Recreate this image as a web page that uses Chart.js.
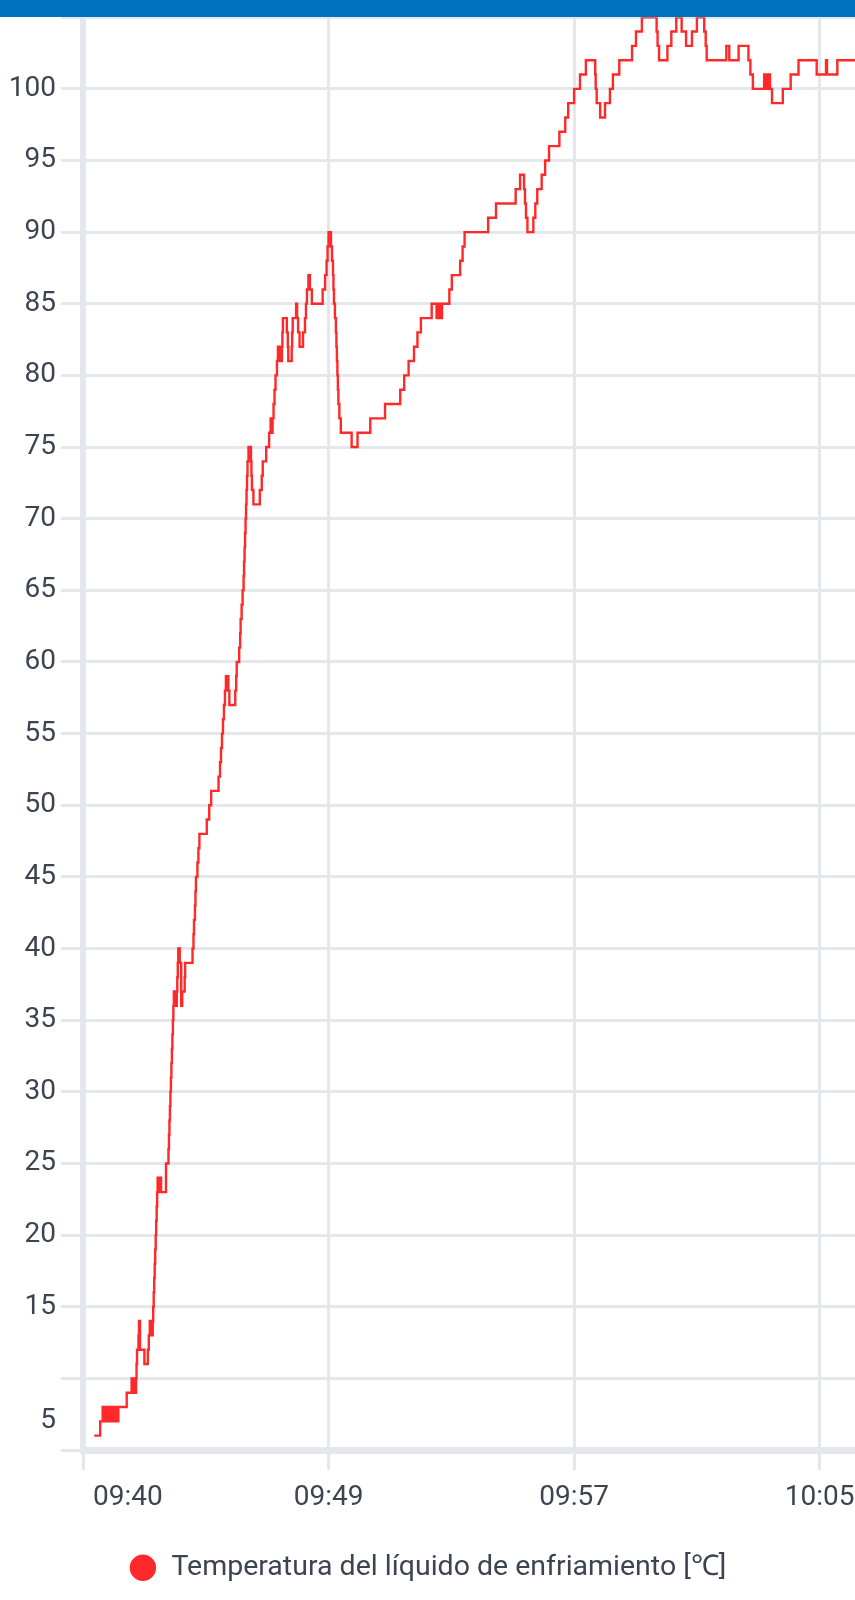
<!DOCTYPE html>
<html>
<head>
<meta charset="utf-8">
<script src="https://cdn.jsdelivr.net/npm/chart.js@4.4.1/dist/chart.umd.min.js"></script>
<style>
    html, body { margin: 0; padding: 0; background: #ffffff; overflow: hidden; }
    #wrap { position: relative; width: 855px; height: 1600px; }
    #topBar { position: absolute; left: 0; top: 0; width: 855px; height: 17px; background: #0071c1; z-index: 2; }
</style>
</head>
<body>
<div id="wrap">
    <div id="topBar"></div>
    <canvas id="tempChart" width="855" height="1600"></canvas>
</div>
<script>
// Seconds after 09:40:00 where the reading changes
var times = [
    63, 75, 80, 84, 85, 89, 90, 94, 95, 99, 101, 103, 105, 107, 109, 110, 112,
    129, 139, 142, 144, 146, 148, 149, 150, 153, 154, 156, 165, 172, 174,
    176, 177, 178, 179, 180, 181, 182, 183, 184, 185, 186, 187, 188, 189, 190, 191, 192,
    193, 194, 196, 197, 199, 209, 214, 215, 216, 217, 218, 219, 220, 221, 222, 223, 224,
    225, 227, 228, 230, 231, 232, 233, 234, 237, 240, 242, 247, 248,
    263, 265, 266, 268, 269, 270, 273, 275, 277, 292, 297, 301, 316, 319, 321, 323, 325, 327,
    329, 331, 333, 334, 336, 338, 350, 352, 353, 358, 360, 361, 363, 365, 367, 368, 369, 370,
    371, 372, 373, 374, 375, 377, 382, 383, 384, 387, 400, 404, 406, 413, 419, 422, 424, 426,
    428, 430, 432, 435, 437, 440, 441, 443, 445, 446, 447, 455, 457, 458, 465, 466, 467, 474,
    476, 478, 481, 488, 492, 494, 496, 499, 502, 506, 528, 533, 536, 538, 540, 545, 547, 549,
    550, 551, 553, 555, 556, 557, 558, 559, 560, 562, 565, 587, 599, 625, 655, 686, 694, 703,
    714, 721, 728, 750, 760, 762, 764, 766, 768, 771, 786, 791, 808, 813, 817, 865, 881, 921,
    930, 938, 940, 942, 945, 957, 961, 965, 974, 981, 989, 1010, 1022, 1028, 1040, 1052, 1064,
    1083, 1084, 1086, 1093, 1103, 1113, 1119, 1132, 1158, 1166, 1178, 1208, 1210, 1213, 1230,
    1238, 1248, 1259, 1268, 1280, 1290, 1305, 1308, 1310, 1350, 1356, 1375, 1395, 1399, 1404,
    1427, 1430, 1432, 1435, 1437, 1439, 1443, 1465, 1481, 1497, 1534, 1553, 1555, 1576, 1640
];

// Coolant temperature in °C
var temps = [
    6, 7, 8, 7, 8, 7, 8, 7, 8, 7, 8, 7, 8, 7, 8, 7, 8,
    9, 10, 9, 10, 9, 10, 11, 12, 13, 14, 12, 11, 12, 13,
    14, 13, 14, 13, 14, 13, 14, 15, 16, 17, 18, 19, 20, 21, 22, 23, 24,
    23, 24, 23, 24, 23, 25, 26, 27, 28, 29, 30, 31, 32, 33, 34, 35, 36,
    37, 36, 37, 36, 37, 38, 39, 40, 39, 36, 37, 38, 39,
    40, 41, 42, 43, 44, 45, 46, 47, 48, 49, 50, 51, 52, 53, 54, 55, 56, 57,
    58, 59, 58, 59, 58, 57, 58, 59, 60, 61, 62, 63, 64, 65, 66, 67, 68, 69,
    70, 71, 72, 73, 74, 75, 74, 73, 72, 71, 72, 73, 74, 75, 76, 77, 76, 77,
    78, 79, 80, 81, 82, 81, 82, 81, 82, 83, 84, 83, 82, 81, 82, 83, 84, 85,
    84, 83, 82, 83, 84, 85, 86, 87, 86, 85, 86, 87, 88, 89, 90, 89, 88, 87,
    86, 85, 84, 83, 82, 81, 80, 79, 78, 77, 76, 75, 76, 77, 78, 79, 80, 81,
    82, 83, 84, 85, 84, 85, 84, 85, 84, 85, 86, 87, 88, 89, 90, 91, 92, 93,
    94, 93, 92, 91, 90, 91, 92, 93, 94, 95, 96, 97, 98, 99, 100, 101, 102,
    101, 100, 99, 98, 99, 100, 101, 102, 103, 104, 105, 104, 103, 102, 103,
    104, 105, 104, 103, 104, 105, 104, 103, 102, 103, 102, 103, 102, 101, 100,
    101, 100, 101, 100, 101, 100, 99, 100, 101, 102, 101, 102, 101, 102, 102
];

// X axis ticks (seconds after 09:40:00) and their labels
var xTickSeconds = [40, 540, 1040, 1540];
var xTickLabels = ['09:40', '09:49', '09:57', '10:05'];

var seriesName = 'Temperatura del líquido de enfriamiento [℃]';
var textColor = '#3d4451';
var gridColor = '#e4e7eb';
var lineColor = '#ff2929';

var points = times.map(function (t, i) {
    return { x: t, y: temps[i] };
});

// First x label is pushed inside the chart, like the phone app does
var firstLabelInside = {
    id: 'firstLabelInside',
    beforeDraw: function (chart) {
        var items = chart.scales.x.getLabelItems();
        if (items.length) {
            items[0].options.textAlign = 'left';
            items[0].options.translation[0] += 10;
        }
    }
};

var ctx = document.getElementById('tempChart').getContext('2d');
var tempChart = new Chart(ctx, {
    type: 'line',
    data: {
        datasets: [{
            label: seriesName,
            data: points,
            borderColor: lineColor,
            backgroundColor: lineColor,
            borderWidth: 2.4,
            pointRadius: 0,
            pointStyle: 'circle',
            stepped: true,
            fill: false
        }]
    },
    options: {
        responsive: false,
        devicePixelRatio: 1,
        animation: false,
        layout: { padding: { top: 17.2, left: 0, right: 0, bottom: 8 } },
        plugins: {
            tooltip: { enabled: false },
            legend: {
                position: 'bottom',
                labels: {
                    usePointStyle: true,
                    boxWidth: 28.5,
                    boxHeight: 17,
                    padding: 10,
                    color: textColor,
                    font: { family: 'Roboto', size: 28.5 }
                }
            }
        },
        scales: {
            x: {
                type: 'linear',
                min: 40,
                max: 1612,
                afterBuildTicks: function (scale) {
                    scale.ticks = xTickSeconds.map(function (v) { return { value: v }; });
                },
                afterFit: function (scale) {
                    scale.height = 93.5;
                    scale.paddingLeft = 0;
                    scale.paddingRight = 0;
                },
                ticks: {
                    autoSkip: false,
                    maxRotation: 0,
                    padding: 11,
                    color: textColor,
                    font: { family: 'Roboto', size: 28 },
                    callback: function (value, index) {
                        return xTickLabels[index];
                    }
                },
                grid: { color: gridColor, lineWidth: 3, tickLength: 20 },
                border: { color: gridColor, width: 7 }
            },
            y: {
                min: 5,
                max: 105,
                afterFit: function (scale) {
                    scale.width = 83;
                    scale.paddingTop = 0;
                    scale.paddingBottom = 0;
                },
                ticks: {
                    stepSize: 5,
                    autoSkip: false,
                    padding: 5,
                    color: textColor,
                    font: { family: 'Roboto', size: 28, lineHeight: 1.05 },
                    callback: function (value) {
                        if (value === 105 || value === 10) return '';
                        if (value === 5) return ['5', '', ''];
                        return String(value);
                    }
                },
                grid: { color: gridColor, lineWidth: 3, tickLength: 22 },
                border: { color: gridColor, width: 6 }
            }
        }
    },
    plugins: [firstLabelInside]
});
</script>
</body>
</html>
